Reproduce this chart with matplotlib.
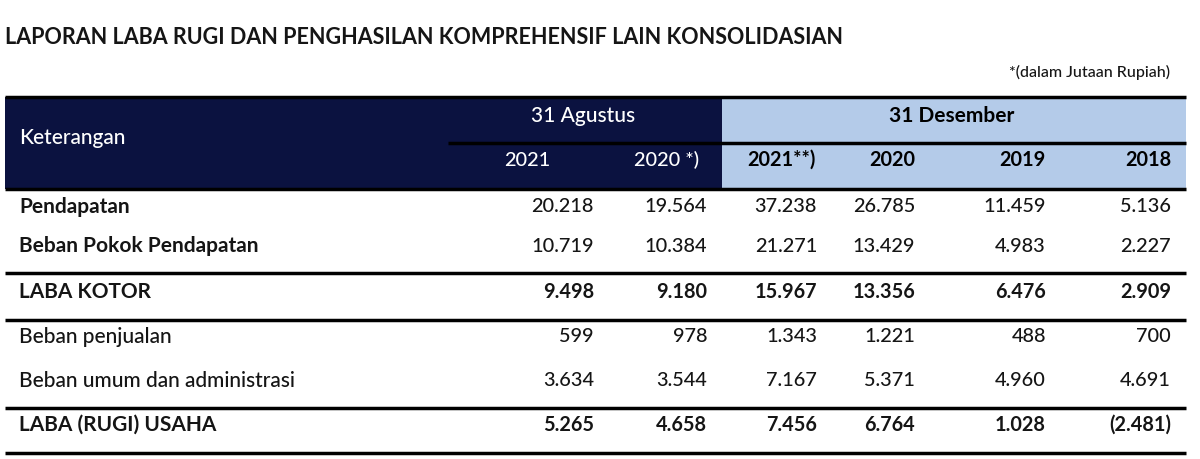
import matplotlib
matplotlib.use('Agg')
import matplotlib.pyplot as plt
from matplotlib.patches import Rectangle

plt.rcParams['font.family'] = ['Lato', 'DejaVu Sans']

title = 'LAPORAN LABA RUGI DAN PENGHASILAN KOMPREHENSIF LAIN KONSOLIDASIAN'
unit_note = '*(dalam Jutaan Rupiah)'

group_labels = ['31 Agustus', '31 Desember']
year_labels = ['2021', '2020 *)', '2021**)', '2020', '2019', '2018']

row_labels = ['Pendapatan', 'Beban Pokok Pendapatan', 'LABA KOTOR',
              'Beban penjualan', 'Beban umum dan administrasi', 'LABA (RUGI) USAHA']
row_bold = [True, True, True, False, False, True]
value_bold = [False, False, True, False, False, True]

pendapatan = ['20.218', '19.564', '37.238', '26.785', '11.459', '5.136']
beban_pokok = ['10.719', '10.384', '21.271', '13.429', '4.983', '2.227']
laba_kotor = ['9.498', '9.180', '15.967', '13.356', '6.476', '2.909']
beban_penjualan = ['599', '978', '1.343', '1.221', '488', '700']
beban_umum = ['3.634', '3.544', '7.167', '5.371', '4.960', '4.691']
laba_usaha = ['5.265', '4.658', '7.456', '6.764', '1.028', '(2.481)']
values = [pendapatan, beban_pokok, laba_kotor, beban_penjualan, beban_umum, laba_usaha]

# layout (pixel coords, y grows downward)
navy = '#0b1240'
light_blue = '#b4cbe9'
ink = '#151515'
left, right = 5, 1186
split_x = 722
col_right = [594, 707, 817, 915, 1046, 1171]
head_right = [550, 699, 816, 915, 1046, 1171]
row_y = [207, 246, 292, 337, 381, 425]
rule_y = [273, 320, 408, 453]

fs_label = 15
fs_num = 14.3
regular = 'medium'   # falls back to regular if no medium face
heavy = 'bold'

fig = plt.figure(figsize=(12, 4.59), dpi=100)
ax = fig.add_axes([0, 0, 1, 1])
ax.set_xlim(0, 1200)
ax.set_ylim(459, 0)
ax.axis('off')

ax.text(5, 37, title, fontsize=15.5, fontweight=heavy, va='center', ha='left', color=ink)
ax.text(1170, 72, unit_note, fontsize=11.5, fontweight=regular, va='center', ha='right', color=ink)

# header blocks
ax.add_patch(Rectangle((left, 97), split_x - left, 92, color=navy, lw=0))
ax.add_patch(Rectangle((split_x, 97), right - split_x, 92, color=light_blue, lw=0))
ax.plot([left, right], [97, 97], color='black', lw=2.5, solid_capstyle='butt')
ax.plot([448, right], [143, 143], color='black', lw=2.5, solid_capstyle='butt')
ax.plot([left, right], [189, 189], color='black', lw=2.5, solid_capstyle='butt')

ax.text(19, 138, 'Keterangan', fontsize=fs_label, fontweight=regular,
        va='center', ha='left', color='white')
ax.text(583, 116, group_labels[0], fontsize=fs_label, fontweight=regular,
        va='center', ha='center', color='white')
ax.text(952, 116, group_labels[1], fontsize=fs_label, fontweight=heavy,
        va='center', ha='center', color='black')
for i, lab in enumerate(year_labels):
    if i < 2:
        ax.text(head_right[i], 160, lab, fontsize=fs_num, fontweight=regular,
                va='center', ha='right', color='white')
    else:
        ax.text(head_right[i], 160, lab, fontsize=fs_num, fontweight=heavy,
                va='center', ha='right', color='black')

for r, lab in enumerate(row_labels):
    w = heavy if row_bold[r] else regular
    ax.text(19, row_y[r], lab, fontsize=fs_label, fontweight=w, va='center', ha='left', color=ink)
    vw = heavy if value_bold[r] else regular
    for c, v in enumerate(values[r]):
        ax.text(col_right[c], row_y[r], v, fontsize=fs_num, fontweight=vw,
                va='center', ha='right', color=ink)

for y in rule_y:
    ax.plot([left, right], [y, y], color='black', lw=2.5, solid_capstyle='butt')

fig.savefig('out.png', dpi=100)
